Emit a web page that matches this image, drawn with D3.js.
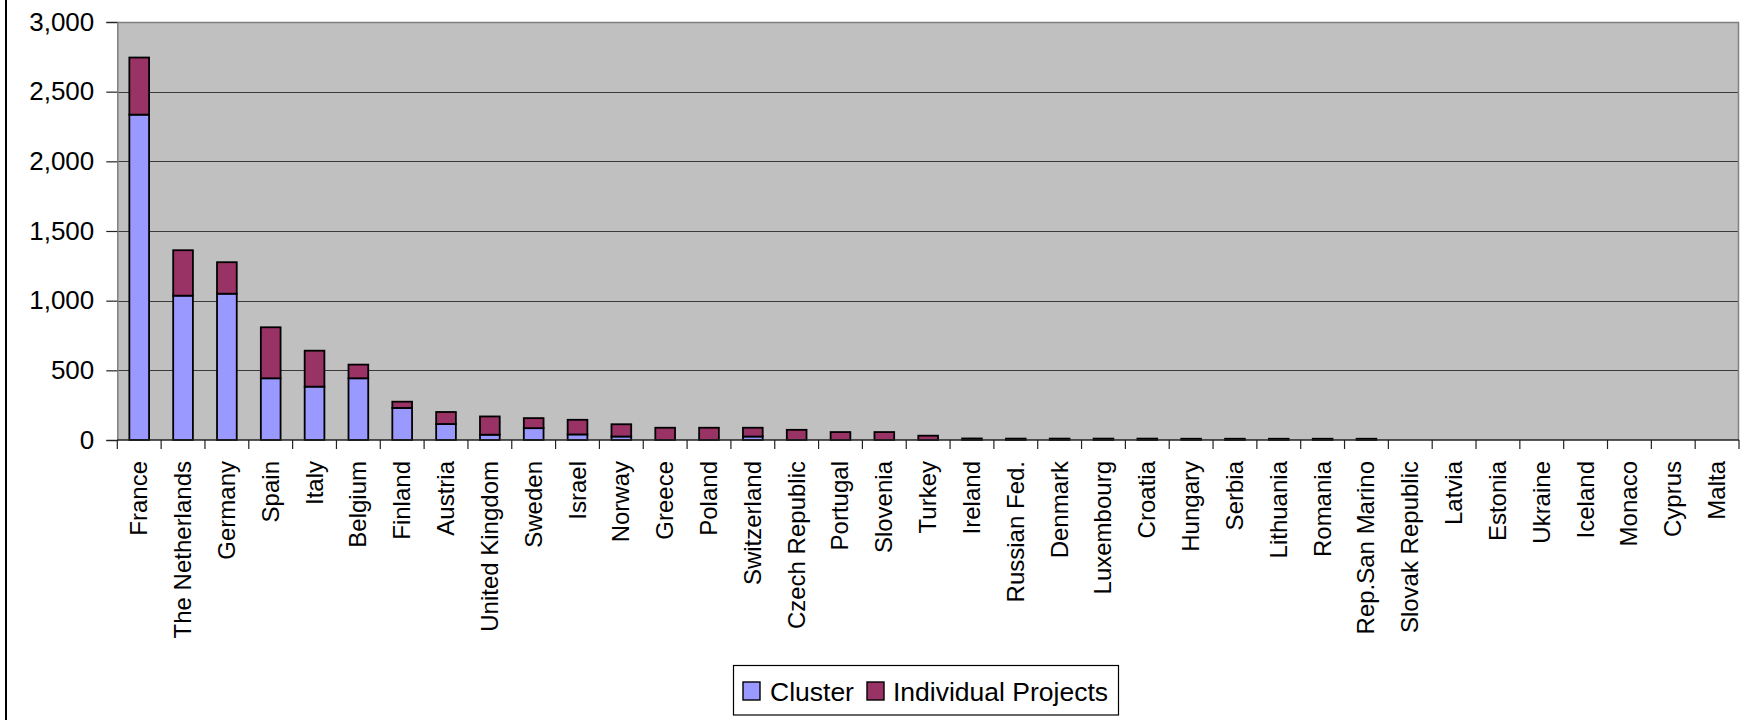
<!DOCTYPE html>
<html>
<head>
<meta charset="utf-8">
<script src="https://cdn.jsdelivr.net/npm/d3@7"></script>
<style>
  html, body { margin: 0; padding: 0; background: #ffffff; }
  svg { display: block; font-family: "Liberation Sans", Arial, sans-serif; }
</style>
</head>
<body>
<svg id="chart" width="1751" height="720"></svg>
<script>
// Countries, in descending order of total
const countries = [
  "France", "The Netherlands", "Germany", "Spain", "Italy", "Belgium", "Finland",
  "Austria", "United Kingdom", "Sweden", "Israel", "Norway", "Greece", "Poland",
  "Switzerland", "Czech Republic", "Portugal", "Slovenia", "Turkey", "Ireland",
  "Russian Fed.", "Denmark", "Luxembourg", "Croatia", "Hungary", "Serbia",
  "Lithuania", "Romania", "Rep.San Marino", "Slovak Republic", "Latvia", "Estonia",
  "Ukraine", "Iceland", "Monaco", "Cyprus", "Malta"
];

// Cluster participation per country
const cluster = [
  2335, 1036, 1050, 443, 383, 443, 230,
  115, 38, 85, 40, 25, 0, 0,
  25, 0, 0, 0, 0, 0,
  0, 0, 0, 0, 0, 0,
  0, 0, 0, 0, 0, 0,
  0, 0, 0, 0, 0
];

// Individual project participation per country
const individual = [
  410, 326, 226, 366, 258, 98, 45,
  86, 131, 72, 105, 88, 88, 88,
  63, 73, 57, 57, 31, 11,
  10, 10, 10, 10, 9, 9,
  9, 9, 9, 0, 0, 0,
  0, 0, 0, 0, 0
];

const seriesNames = ["Cluster", "Individual Projects"];
const seriesColors = ["#9999FF", "#993366"];
const yTicks = [0, 500, 1000, 1500, 2000, 2500, 3000];

const svg = d3.select("#chart");
const W = 1751, H = 720;
const plot = { left: 117.3, right: 1739, top: 22, bottom: 440 };

// Outer chart frame edge
svg.append("line")
  .attr("x1", 6).attr("x2", 6).attr("y1", 0).attr("y2", H)
  .attr("stroke", "#000").attr("stroke-width", 2);

const x = d3.scaleBand()
  .domain(countries)
  .range([plot.left, plot.right])
  .paddingInner(0.55)
  .paddingOuter(0.275);

const y = d3.scaleLinear()
  .domain([0, 3000])
  .range([plot.bottom, plot.top]);

// Plot area background
svg.append("rect")
  .attr("x", plot.left).attr("y", plot.top)
  .attr("width", plot.right - plot.left).attr("height", plot.bottom - plot.top)
  .attr("fill", "#C0C0C0");

// Horizontal gridlines
svg.append("g")
  .selectAll("line")
  .data(yTicks.filter(d => d > 0 && d < 3000))
  .join("line")
  .attr("x1", plot.left).attr("x2", plot.right)
  .attr("y1", d => Math.round(y(d)) + 0.5).attr("y2", d => Math.round(y(d)) + 0.5)
  .attr("stroke", "#3a3a3a").attr("stroke-width", 1.2);

// Plot area border (top and right)
svg.append("path")
  .attr("d", `M${plot.left},${plot.top + 0.5}H${plot.right - 0.5}V${plot.bottom}`)
  .attr("fill", "none").attr("stroke", "#808080").attr("stroke-width", 1.5);

// Stacked bars
const rows = countries.map((c, i) => ({ country: c, Cluster: cluster[i], "Individual Projects": individual[i] }));
const stacked = d3.stack().keys(seriesNames)(rows);

svg.append("g")
  .selectAll("g")
  .data(stacked)
  .join("g")
  .attr("fill", (d, i) => seriesColors[i])
  .selectAll("rect")
  .data(d => d.filter(s => s[1] - s[0] > 0))
  .join("rect")
  .attr("x", d => x(d.data.country))
  .attr("width", x.bandwidth())
  .attr("y", d => y(d[1]))
  .attr("height", d => y(d[0]) - y(d[1]))
  .attr("stroke", "#000")
  .attr("stroke-width", 1.8);

// Y axis
const yAxis = svg.append("g")
  .attr("transform", `translate(${plot.left},0)`)
  .call(d3.axisLeft(y).tickValues(yTicks).tickFormat(d3.format(",")).tickSize(11).tickPadding(12));
yAxis.select(".domain").attr("stroke", "#808080").attr("stroke-width", 1.5);
yAxis.selectAll(".tick line").attr("stroke", "#222").attr("stroke-width", 1.2);
yAxis.selectAll(".tick text")
  .attr("font-size", 26)
  .attr("font-family", "'Liberation Sans', Arial, sans-serif")
  .attr("fill", "#000");

// X axis: tick marks on category boundaries, labels rotated
const boundary = d3.scaleLinear().domain([0, countries.length]).range([plot.left, plot.right]);
svg.append("line")
  .attr("x1", plot.left).attr("x2", plot.right)
  .attr("y1", plot.bottom).attr("y2", plot.bottom)
  .attr("stroke", "#222").attr("stroke-width", 1.4);
svg.append("g")
  .selectAll("line")
  .data(d3.range(countries.length + 1))
  .join("line")
  .attr("x1", d => boundary(d)).attr("x2", d => boundary(d))
  .attr("y1", plot.bottom).attr("y2", plot.bottom + 9)
  .attr("stroke", "#222").attr("stroke-width", 1.2);

svg.append("g")
  .selectAll("text")
  .data(countries)
  .join("text")
  .attr("transform", d => `translate(${x(d) + x.bandwidth() / 2 + 8},${plot.bottom + 21}) rotate(-90)`)
  .attr("text-anchor", "end")
  .attr("font-size", 24)
  .attr("fill", "#000")
  .text(d => d);

// Legend
const legend = svg.append("g");
legend.append("rect")
  .attr("x", 733.5).attr("y", 665.5).attr("width", 385).attr("height", 49.5)
  .attr("fill", "#fff").attr("stroke", "#000").attr("stroke-width", 1.2);
const legendX = [743, 867];
const textX = [770, 893];
seriesNames.forEach((name, i) => {
  legend.append("rect")
    .attr("x", legendX[i]).attr("y", 682).attr("width", 17).attr("height", 18)
    .attr("fill", seriesColors[i]).attr("stroke", "#000").attr("stroke-width", 1.4);
  legend.append("text")
    .attr("x", textX[i]).attr("y", 701)
    .attr("font-size", 26.5)
    .attr("fill", "#000")
    .text(name);
});
</script>
</body>
</html>
